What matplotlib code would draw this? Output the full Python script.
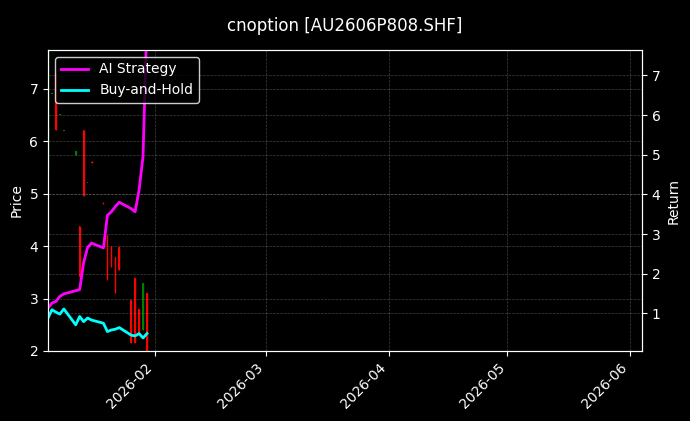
import matplotlib
matplotlib.use("Agg")
import matplotlib.pyplot as plt
import matplotlib.dates as mdates
import pandas as pd
import numpy as np

dates = pd.bdate_range("2026-01-05", "2026-01-30")
opens  = [5.46, 6.9, 7.31, 6.5, 6.2, 5.74, 4.38, 6.22, 5.2, 5.6, 4.82, 4.22, 4.0, 3.80, 3.99, 2.97, 3.39, 2.8, 2.40, 3.10]
closes = [7.75, 6.9, 6.22, 6.5, 6.2, 5.82, 3.42, 4.95, 5.2, 5.58, 4.80, 3.36, 3.6, 3.10, 3.55, 2.15, 2.15, 2.3, 3.29, 2.00]
highs  = [7.75, 6.9, 7.31, 6.5, 6.2, 5.82, 4.38, 6.22, 5.2, 5.62, 4.84, 4.22, 4.0, 3.80, 3.99, 2.97, 3.39, 2.8, 3.29, 3.10]
lows   = [5.46, 6.9, 6.22, 6.5, 6.2, 5.74, 3.42, 4.95, 5.2, 5.58, 4.80, 3.36, 3.6, 3.10, 3.55, 2.15, 2.15, 2.3, 2.40, 2.00]
ai_ret = [1.13, 1.26, 1.30, 1.43, 1.49, 1.57, 1.60, 2.28, 2.66, 2.77, 2.65, 3.47, 3.56, 3.69, 3.80, 3.64, 3.56, 4.11, 4.96, 8.5]
bh_ret = [0.88, 1.09, 1.03, 0.98, 1.11, 0.71, 0.92, 0.79, 0.88, 0.83, 0.75, 0.54, 0.58, 0.60, 0.64, 0.45, 0.43, 0.49, 0.38, 0.49]

plt.style.use("dark_background")
fig = plt.figure(figsize=(6.9, 4.21), dpi=100)
ax = fig.add_axes([48/690, 1-351/421, (642-48)/690, (351-50)/421])
ax2 = ax.twinx()

for d, o, h, l, c in zip(dates, opens, highs, lows, closes):
    col = "green" if c >= o else "red"
    ax.vlines(d, l, h, color=col, linewidth=1)
    ax.bar(d, max(abs(c - o), 0.02), bottom=min(o, c), width=0.4, color=col)

ax2.plot(dates, ai_ret, color="magenta", linewidth=2, label="AI Strategy")
ax2.plot(dates, bh_ret, color="cyan", linewidth=2, label="Buy-and-Hold")

ax.set_xlim(pd.Timestamp("2026-01-05"), pd.Timestamp("2026-06-04"))
ax.set_ylim(2.0, 7.74)
ax2.set_ylim(0.05, 7.64)
ax.xaxis.set_major_locator(mdates.MonthLocator())
ax.xaxis.set_major_formatter(mdates.DateFormatter("%Y-%m"))
plt.setp(ax.get_xticklabels(), rotation=45, ha="right")
ax.grid(True, color="gray", linestyle="--", linewidth=0.5, alpha=0.5)
ax2.grid(True, color="gray", linestyle="--", linewidth=0.5, alpha=0.5)
ax.set_ylabel("Price")
ax2.set_ylabel("Return")
fig.suptitle("cnoption [AU2606P808.SHF]", fontsize=12, y=0.96)
leg = ax2.legend(loc="upper left", facecolor="black", edgecolor="white")
fig.savefig("out.png", dpi=100, facecolor="black")
